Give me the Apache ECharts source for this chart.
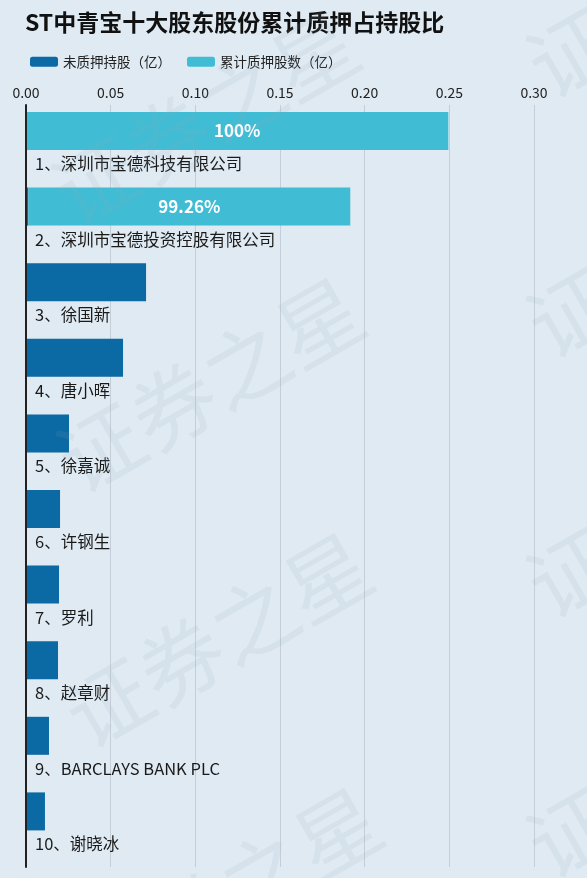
<!DOCTYPE html>
<html>
<head>
<meta charset="utf-8">
<script src="https://cdn.jsdelivr.net/npm/echarts@6/dist/echarts.min.js"></script>
<style>
html,body{margin:0;padding:0;background:#dfeaf2;}
#c{width:587px;height:878px;}
</style>
</head>
<body>
<div id="c"></div>
<script>
const titleText = 'ST中青宝十大股东股份累计质押占持股比';
const categories = [
  '1、深圳市宝德科技有限公司',
  '2、深圳市宝德投资控股有限公司',
  '3、徐国新',
  '4、唐小晖',
  '5、徐嘉诚',
  '6、许钢生',
  '7、罗利',
  '8、赵章财',
  '9、BARCLAYS BANK PLC',
  '10、谢晓冰'
];
const unpledged = [0, 0.0014, 0.0709, 0.0573, 0.0254, 0.0201, 0.0195, 0.0189, 0.0136, 0.0112];
const pledged   = [0.2494, 0.1901, 0, 0, 0, 0, 0, 0, 0, 0];
const pledgeRatio = [100, 99.26, null, null, null, null, null, null, null, null];
const xTicks = { min: 0, max: 0.30, interval: 0.05 };

const FONT = '"Noto Sans CJK SC", "Noto Sans", sans-serif';
const chart = echarts.init(document.getElementById('c'), null, { renderer: 'canvas' });

const wm = [];
const wmPos = [[205, 118], [210, 385], [218, 640], [228, 895], [680, -10], [680, 250], [680, 510], [680, 770]];
wmPos.forEach(p => wm.push({
  type: 'text', x: p[0], y: p[1], rotation: 0.52, z: 100,
  style: { text: '证券之星', fill: 'rgba(150,170,190,0.12)', font: '84px ' + FONT, align: 'center', verticalAlign: 'middle' },
  silent: true
}));

chart.setOption({
  backgroundColor: '#dfeaf2',
  animation: false,
  textStyle: { fontFamily: FONT },
  title: {
    text: titleText, left: 20, top: 6,
    textStyle: { fontSize: 23, fontWeight: 'bold', color: '#111', fontFamily: FONT }
  },
  legend: {
    data: ['未质押持股（亿）', '累计质押股数（亿）'],
    left: 25, top: 50, itemWidth: 28, itemHeight: 10, itemGap: 16,
    textStyle: { fontSize: 13.5, color: '#222', fontFamily: FONT }
  },
  grid: [
    { left: 26, right: 53, top: 105, bottom: 17, containLabel: false },
    { left: 26, right: 53, top: 105, bottom: 11, containLabel: false }
  ],
  xAxis: [
    {
      type: 'value', gridIndex: 0, show: false,
      min: xTicks.min, max: xTicks.max, interval: xTicks.interval
    },
    {
      type: 'value', gridIndex: 1, position: 'top',
      min: xTicks.min, max: xTicks.max, interval: xTicks.interval,
      axisLine: { show: false }, axisTick: { show: false },
      axisLabel: { fontSize: 14, color: '#222', margin: 5, formatter: v => v.toFixed(2), fontFamily: FONT },
      splitLine: { lineStyle: { color: '#c3ced8', width: 1 } }
    }
  ],
  yAxis: [
    {
      type: 'category', gridIndex: 0, data: categories, inverse: true,
      axisLine: { show: false },
      axisTick: { show: false },
      axisLabel: {
        inside: true, margin: 9, fontSize: 16.5, color: '#1a1a1a', fontFamily: FONT,
        verticalAlign: 'top', lineHeight: 42, interval: 0,
        showMinLabel: true, showMaxLabel: true, hideOverlap: false
      },
      z: 10
    },
    {
      type: 'value', gridIndex: 1, min: 0, max: 1,
      axisLine: { show: true, lineStyle: { color: '#222', width: 2 } },
      axisTick: { show: false }, axisLabel: { show: false }, splitLine: { show: false },
      z: 10
    }
  ],
  series: [
    {
      name: '未质押持股（亿）', type: 'bar', stack: 'a', barWidth: 38, barGap: 0,
      xAxisIndex: 0, yAxisIndex: 0,
      data: unpledged, itemStyle: { color: '#0b69a3' }
    },
    {
      name: '累计质押股数（亿）', type: 'bar', stack: 'a', barWidth: 38, barGap: 0,
      xAxisIndex: 0, yAxisIndex: 0,
      data: pledged, itemStyle: { color: '#40bcd4' },
      label: {
        show: true, position: 'inside', color: '#fff', fontSize: 17, fontWeight: 'bold', fontFamily: FONT,
        formatter: p => pledgeRatio[p.dataIndex] == null ? '' : pledgeRatio[p.dataIndex] + '%'
      }
    },
    {
      name: 'spacer', type: 'bar', barWidth: 23.6, barGap: 0, silent: true,
      xAxisIndex: 0, yAxisIndex: 0,
      data: categories.map(() => 0), itemStyle: { color: 'rgba(0,0,0,0)' }
    }
  ],
  graphic: wm
});
</script>
</body>
</html>
